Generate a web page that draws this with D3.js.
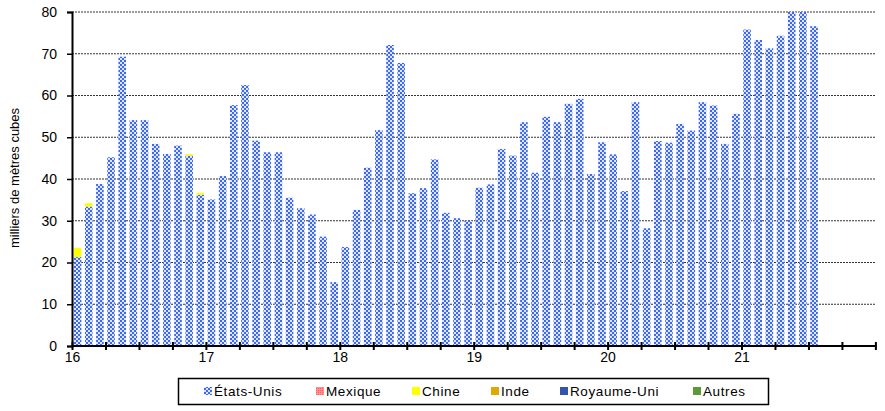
<!DOCTYPE html>
<html><head><meta charset="utf-8">
<script src="https://cdn.jsdelivr.net/npm/d3@7"></script>
<style>body{margin:0;background:#fff}svg{display:block}text{font-family:"Liberation Sans",Arial,sans-serif}</style>
</head><body><svg id="c" width="885" height="411"></svg>
<script>
// Monthly data, Jan 2016 .. Jul 2021 (milliers de mètres cubes)
const months = d3.range(67).map(i => new Date(2016, i, 1));
const etatsUnis = [
  21.3, 33.4, 38.8, 45.2, 69.3, 54.1, 54.1, 48.4, 46.0, 48.0, 45.6, 36.2,
  35.1, 40.7, 57.7, 62.5, 49.2, 46.4, 46.4, 35.5, 33.0, 31.5, 26.2, 15.3,
  23.7, 32.6, 42.7, 51.7, 72.1, 67.8, 36.6, 37.8, 44.7, 31.9, 30.6, 30.0,
  37.9, 38.7, 47.2, 45.6, 53.6, 41.5, 54.9, 53.6, 58.0, 59.2, 41.2, 48.8,
  45.9, 37.1, 58.4, 28.2, 49.1, 48.7, 53.2, 51.6, 58.4, 57.6, 48.4, 55.6,
  75.8, 73.3, 71.3, 74.3, 81.0, 81.0, 76.6
];
const mexique = months.map(() => 0);
const chine = months.map((d, i) => [2.2, 0.8, 0, 0, 0, 0, 0, 0, 0, 0, 0.4, 0.5][i] || 0);
const inde = months.map(() => 0);
const royaumeUni = months.map(() => 0);
const autres = months.map(() => 0);
const seriesNames = ["États-Unis", "Mexique", "Chine", "Inde", "Royaume-Uni", "Autres"];
const seriesValues = [etatsUnis, mexique, chine, inde, royaumeUni, autres];
const seriesColors = ["url(#pUS)", "url(#pMX)", "#ffff00", "#e0a800", "#3355b0", "#5a9a3a"];
const yTicks = [0, 10, 20, 30, 40, 50, 60, 70, 80];
const yearLabels = ["16", "17", "18", "19", "20", "21"];

const svg = d3.select("#c");
const defs = svg.append("defs");
const pUS = defs.append("pattern").attr("id", "pUS").attr("patternUnits", "userSpaceOnUse")
  .attr("width", 4).attr("height", 4);
pUS.append("rect").attr("width", 4).attr("height", 4).attr("fill", "#dfe6ff");
pUS.append("rect").attr("x", 0).attr("y", 0).attr("width", 2).attr("height", 2).attr("fill", "#3d68f2");
pUS.append("rect").attr("x", 2).attr("y", 2).attr("width", 2).attr("height", 2).attr("fill", "#3d68f2");
const pMX = defs.append("pattern").attr("id", "pMX").attr("patternUnits", "userSpaceOnUse")
  .attr("width", 2).attr("height", 2);
pMX.append("rect").attr("width", 2).attr("height", 2).attr("fill", "#ff9090");
pMX.append("rect").attr("width", 1).attr("height", 1).attr("fill", "#ff6060");
defs.append("clipPath").attr("id", "plotClip").append("rect")
  .attr("x", 72).attr("y", 12).attr("width", 804).attr("height", 334);

const x0 = 72, x1 = 875.4, yTop = 12, yBot = 346;
const monthIdx = d3.range(72);
const xb = d3.scaleBand().domain(monthIdx).range([x0, x1]).paddingInner(0.32).paddingOuter(0.16);
const xq = d3.scaleLinear().domain([0, 72]).range([x0, x1]);
const y = d3.scaleLinear().domain([0, 80]).range([yBot, yTop]);

// gridlines
svg.append("g").selectAll("line").data(yTicks.filter(d => d > 0)).join("line")
  .attr("x1", x0).attr("x2", x1).attr("y1", d => y(d)).attr("y2", d => y(d))
  .attr("stroke", "#333").attr("stroke-width", 1).attr("stroke-dasharray", "2,1");

// stacked bars
const table = months.map((m, i) => {
  const o = { i };
  seriesNames.forEach((n, k) => o[n] = seriesValues[k][i]);
  return o;
});
const stack = d3.stack().keys(seriesNames)(table);
const gBars = svg.append("g").attr("clip-path", "url(#plotClip)");
stack.forEach((s, k) => {
  gBars.append("g").attr("fill", seriesColors[k]).selectAll("rect")
    .data(s.filter(d => d[1] - d[0] > 0)).join("rect")
    .attr("x", d => xb(d.data.i)).attr("width", xb.bandwidth())
    .attr("y", d => y(d[1])).attr("height", d => y(d[0]) - y(d[1]));
});

// y axis
const yAxis = d3.axisLeft(y).tickValues(yTicks).tickSize(5).tickPadding(10);
const gy = svg.append("g").attr("transform", `translate(${x0},0)`).call(yAxis);
gy.select(".domain").attr("stroke", "#000").attr("stroke-width", 2);
gy.selectAll(".tick line").attr("stroke", "#000").attr("stroke-width", 1.5);
gy.selectAll("text").attr("font-size", 14).attr("fill", "#000").attr("font-family", "Liberation Sans, Arial, sans-serif");

// x axis
const xAxis = d3.axisBottom(xq).tickValues(d3.range(0, 73, 3)).tickSize(4)
  .tickFormat(d => (d % 12 === 0 && d / 12 < yearLabels.length) ? yearLabels[d / 12] : "");
const gx = svg.append("g").attr("transform", `translate(0,${yBot})`).call(xAxis);
gx.select(".domain").attr("stroke", "#000").attr("stroke-width", 2).attr("d", `M${x0},0H${x1}`);
gx.selectAll(".tick line").attr("stroke", "#000").attr("stroke-width", 2).attr("y1", -4).attr("y2", 4);
gx.selectAll("text").attr("font-size", 14).attr("fill", "#000").attr("dy", "0.95em").attr("y", 3)
  .attr("font-family", "Liberation Sans, Arial, sans-serif");

// y title
svg.append("text").attr("transform", "translate(19,178) rotate(-90)")
  .attr("text-anchor", "middle").attr("font-size", 13).text("milliers de mètres cubes");

// legend
const lg = svg.append("g");
lg.append("rect").attr("x", 178.5).attr("y", 378.5).attr("width", 590).attr("height", 26)
  .attr("fill", "#fff").attr("stroke", "#000").attr("stroke-width", 1.5);
const legX = [204, 316, 412, 491, 560, 693];
seriesNames.forEach((n, k) => {
  lg.append("rect").attr("x", legX[k]).attr("y", 387).attr("width", 8).attr("height", 8).attr("fill", seriesColors[k]);
  lg.append("text").attr("x", legX[k] + 10).attr("y", 396).attr("font-size", 13.5)
    .attr("letter-spacing", 0.6).text(n);
});
</script></body></html>
